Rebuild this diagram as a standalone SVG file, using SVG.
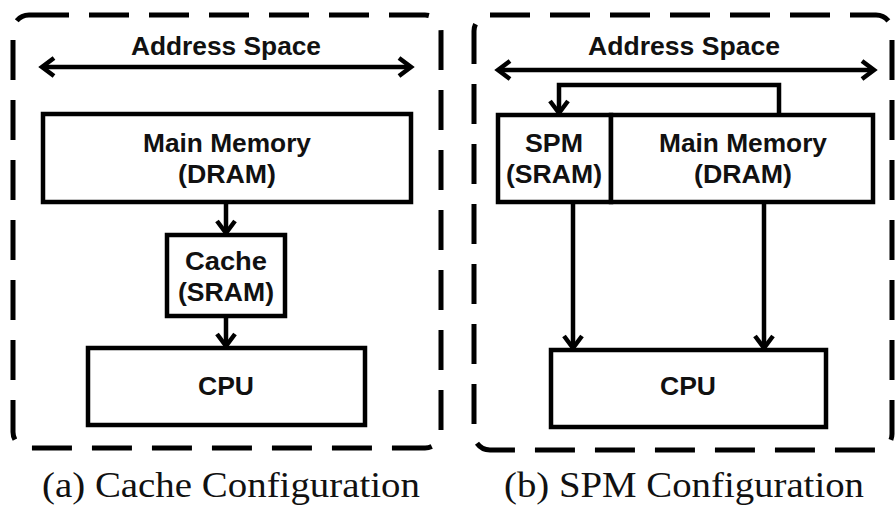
<svg xmlns="http://www.w3.org/2000/svg" width="896" height="508" viewBox="0 0 896 508">
<defs>
<style>
.frame{fill:none;stroke:#000;stroke-width:5;stroke-dasharray:40 20}
.box{fill:#fff;stroke:#000;stroke-width:4.5}
.lbl{font-family:"Liberation Sans",Arial,sans-serif;font-weight:bold;font-size:25px;fill:#111;text-anchor:middle}
.cap{font-family:"Liberation Serif","Times New Roman",serif;font-size:36px;fill:#111}
.ln{fill:none;stroke:#000;stroke-width:4.5}
</style>
<marker id="ah" markerUnits="userSpaceOnUse" markerWidth="22" markerHeight="22" viewBox="0 0 22 22" refX="15" refY="11" orient="auto-start-reverse">
<path d="M3,2 L15,11 L3,20" fill="none" stroke="#000" stroke-width="4.5" stroke-linejoin="miter"/>
</marker>
</defs>
<rect width="896" height="508" fill="#fff"/>

<g id="panel-a">
<rect class="frame" x="13" y="15" width="428" height="433" rx="16"/>
<text class="lbl" x="226" y="55" textLength="190" lengthAdjust="spacingAndGlyphs">Address Space</text>
</g>
<g id="mm-a">
<rect class="box" x="43" y="114" width="368" height="88"/>
<text class="lbl" x="227" y="152" textLength="168" lengthAdjust="spacingAndGlyphs">Main Memory</text>
<text class="lbl" x="227" y="183" textLength="98" lengthAdjust="spacingAndGlyphs">(DRAM)</text>
</g>
<g id="cache-a">
<rect class="box" x="167" y="235" width="118" height="81"/>
<text class="lbl" x="226" y="270" textLength="82" lengthAdjust="spacingAndGlyphs">Cache</text>
<text class="lbl" x="226" y="301" textLength="96" lengthAdjust="spacingAndGlyphs">(SRAM)</text>
</g>
<g id="cpu-a">
<rect class="box" x="88" y="348" width="277" height="77"/>
<text class="lbl" x="226" y="395" textLength="56" lengthAdjust="spacingAndGlyphs">CPU</text>
</g>

<g id="panel-b">
<rect class="frame" x="474" y="15" width="418" height="435" rx="16"/>
<text class="lbl" x="684" y="55" textLength="192" lengthAdjust="spacingAndGlyphs">Address Space</text>
</g>
<g id="spm-b">
<rect class="box" x="498" y="115" width="113" height="87"/>
<text class="lbl" x="554" y="152" textLength="58" lengthAdjust="spacingAndGlyphs">SPM</text>
<text class="lbl" x="554" y="183" textLength="96" lengthAdjust="spacingAndGlyphs">(SRAM)</text>
</g>
<g id="mm-b">
<rect class="box" x="611" y="115" width="262" height="87"/>
<text class="lbl" x="743" y="152" textLength="168" lengthAdjust="spacingAndGlyphs">Main Memory</text>
<text class="lbl" x="743" y="183" textLength="98" lengthAdjust="spacingAndGlyphs">(DRAM)</text>
</g>
<g id="cpu-b">
<rect class="box" x="551" y="350" width="275" height="77"/>
<text class="lbl" x="688" y="395" textLength="56" lengthAdjust="spacingAndGlyphs">CPU</text>
</g>

<g id="connectors">
<line class="ln" x1="42" y1="67" x2="411" y2="67" marker-start="url(#ah)" marker-end="url(#ah)"/>
<line class="ln" x1="226" y1="202" x2="226" y2="233" marker-end="url(#ah)"/>
<line class="ln" x1="226" y1="316" x2="226" y2="346" marker-end="url(#ah)"/>
<line class="ln" x1="498" y1="70" x2="874" y2="70" marker-start="url(#ah)" marker-end="url(#ah)"/>
<polyline class="ln" points="779,113 779,85 559,85 559,113" marker-end="url(#ah)"/>
<line class="ln" x1="573" y1="202" x2="573" y2="348" marker-end="url(#ah)"/>
<line class="ln" x1="764" y1="202" x2="764" y2="348" marker-end="url(#ah)"/>
</g>

<text class="cap" x="42" y="497" textLength="378" lengthAdjust="spacingAndGlyphs">(a) Cache Configuration</text>
<text class="cap" x="504" y="497" textLength="360" lengthAdjust="spacingAndGlyphs">(b) SPM Configuration</text>
</svg>
